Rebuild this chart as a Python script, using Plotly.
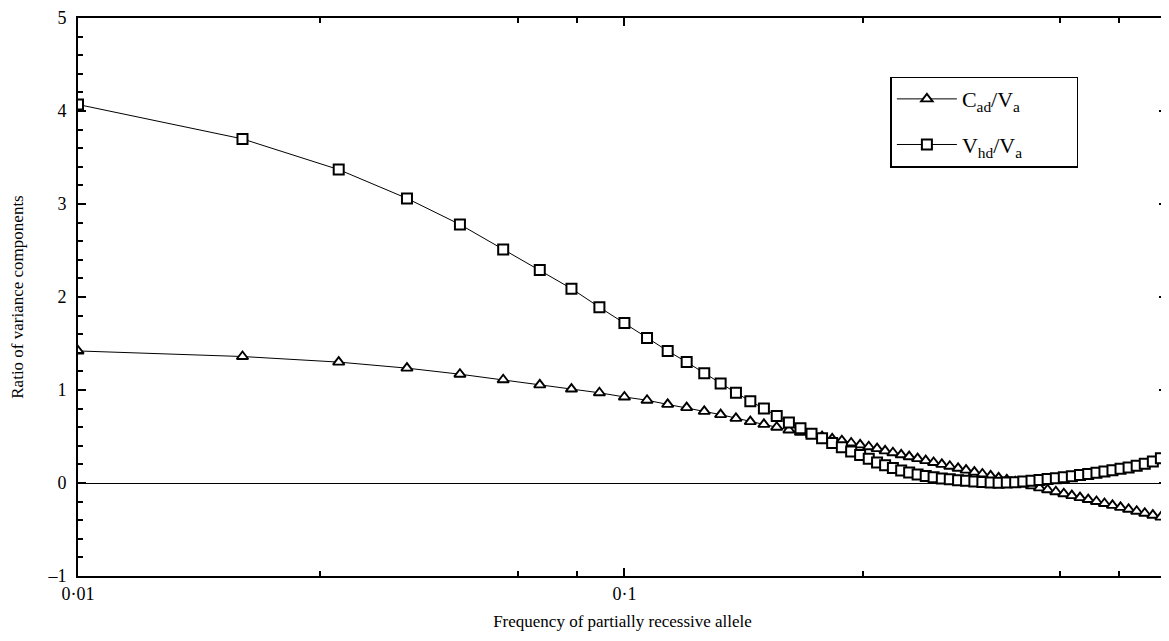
import math
import plotly.graph_objects as go

# Allele frequency of each plotted point
freq = [0.01, 0.02, 0.03, 0.04, 0.05, 0.06, 0.07, 0.08, 0.09, 0.10,
        0.11, 0.12, 0.13, 0.14, 0.15, 0.16, 0.17, 0.18, 0.19, 0.20,
        0.21, 0.22, 0.23, 0.24, 0.25, 0.26, 0.27, 0.28, 0.29, 0.30,
        0.31, 0.321, 0.332, 0.344, 0.356, 0.368, 0.381, 0.394, 0.408, 0.422,
        0.437, 0.452, 0.468, 0.484, 0.501, 0.519, 0.537, 0.556, 0.575, 0.595,
        0.616, 0.637, 0.659, 0.682, 0.706, 0.731, 0.756, 0.782, 0.809, 0.837,
        0.866, 0.896, 0.927, 0.959]

cad_va = [1.42, 1.36, 1.30, 1.235, 1.17, 1.11, 1.055, 1.01, 0.97, 0.925,
          0.89, 0.845, 0.81, 0.77, 0.735, 0.695, 0.66, 0.63, 0.60, 0.57,
          0.545, 0.52, 0.50, 0.475, 0.455, 0.43, 0.41, 0.39, 0.37, 0.345,
          0.325, 0.303, 0.283, 0.262, 0.241, 0.221, 0.200, 0.180, 0.158, 0.138,
          0.117, 0.097, 0.076, 0.055, 0.033, 0.012, -0.010, -0.031, -0.052, -0.073,
          -0.094, -0.115, -0.136, -0.157, -0.178, -0.199, -0.220, -0.241, -0.262, -0.283,
          -0.304, -0.325, -0.346, -0.367]

vhd_va = [4.07, 3.70, 3.37, 3.06, 2.78, 2.51, 2.29, 2.09, 1.89, 1.72,
          1.56, 1.42, 1.30, 1.18, 1.07, 0.97, 0.88, 0.80, 0.72, 0.65,
          0.59, 0.53, 0.48, 0.43, 0.385, 0.34, 0.30, 0.26, 0.22, 0.19,
          0.16, 0.135, 0.113, 0.092, 0.075, 0.061, 0.049, 0.039, 0.030, 0.023,
          0.016, 0.010, 0.006, 0.004, 0.005, 0.009, 0.015, 0.023, 0.032, 0.042,
          0.052, 0.062, 0.073, 0.085, 0.097, 0.110, 0.123, 0.137, 0.152, 0.168,
          0.186, 0.206, 0.232, 0.265]

x_tick_vals = [0.01, 0.1]
x_tick_text = ["0·01", "0·1"]
x_minor_vals = [0.0277, 0.0638, 0.082, 0.273, 0.627, 0.804]
y_tick_vals = [-1, 0, 1, 2, 3, 4, 5]
y_tick_text = ["–1", "0", "1", "2", "3", "4", "5"]

FONT = "Liberation Serif, Times New Roman, serif"
PAD = "\u00a0" * 9

fig = go.Figure()
fig.add_trace(go.Scatter(
    x=freq, y=cad_va, mode="lines+markers",
    name="C<sub>ad</sub>/V<sub>a</sub>" + PAD, legendgroup="a",
    line=dict(color="black", width=1),
    marker=dict(symbol="triangle-up", size=10, color="white",
                line=dict(color="black", width=1.9)),
))
fig.add_trace(go.Scatter(
    x=freq, y=vhd_va, mode="lines+markers",
    name="V<sub>hd</sub>/V<sub>a</sub>" + PAD, legendgroup="b",
    line=dict(color="black", width=1),
    marker=dict(symbol="square", size=10, color="white",
                line=dict(color="black", width=2)),
))

axis_common = dict(
    showline=True, linecolor="black", linewidth=2, mirror="allticks",
    ticks="inside", tickcolor="black", tickwidth=1.5, ticklen=8,
    showgrid=False, tickfont=dict(family=FONT, size=18, color="black"),
    ticklabeloverflow="allow",
)

# the page body adds an 8 px offset, so the figure is 8 px smaller than the window
fig.update_layout(
    width=1161, height=633,
    margin=dict(l=70, r=0, t=6, b=65),
    paper_bgcolor="white", plot_bgcolor="white",
    font=dict(family=FONT, color="black"),
    showlegend=True,
    legend=dict(
        x=0.746, y=0.895, xanchor="left", yanchor="top",
        bordercolor="black", borderwidth=1.5, bgcolor="white",
        font=dict(family=FONT, size=22, color="black"),
        tracegroupgap=14, itemwidth=60,
    ),
    xaxis=dict(
        type="log", range=[-2, math.log10(0.984)],
        tickmode="array", tickvals=x_tick_vals, ticktext=x_tick_text,
        minor=dict(tickmode="array", tickvals=x_minor_vals, ticks="inside",
                   ticklen=5, tickwidth=1.5, tickcolor="black"),
        zeroline=False,
        title=dict(text="Frequency of partially recessive allele",
                   font=dict(family=FONT, size=17, color="black"), standoff=13),
        **axis_common,
    ),
    yaxis=dict(
        range=[-1, 5],
        tickmode="array", tickvals=y_tick_vals, ticktext=y_tick_text,
        minor=dict(dtick=0.2, ticks="inside", ticklen=5, tickwidth=1.5,
                   tickcolor="black"),
        zeroline=True, zerolinecolor="black", zerolinewidth=1.2,
        ticklabelstandoff=6,
        title=dict(text="Ratio of variance components",
                   font=dict(family=FONT, size=17, color="black"), standoff=20),
        **axis_common,
    ),
)

fig.write_html("out.html")
